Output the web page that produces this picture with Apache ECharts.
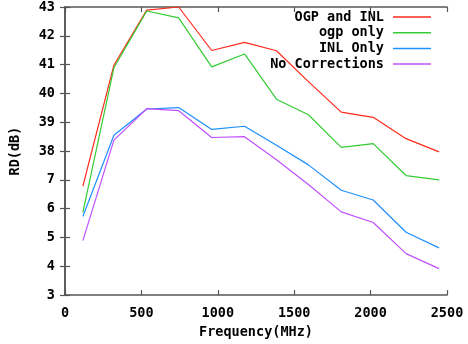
<!DOCTYPE html>
<html>
<head>
<meta charset="utf-8">
<script src="https://cdn.jsdelivr.net/npm/echarts@6/dist/echarts.min.js"></script>
<style>
  html, body { margin: 0; padding: 0; background: #fff; }
  #chart { width: 468px; height: 344px; }
</style>
</head>
<body>
<div id="chart"></div>
<script>
// frequencies (MHz) of the measured points
var freqs = [117, 320, 535, 744, 960, 1175, 1384, 1593, 1808, 2017, 2232, 2448];

var ogpAndInl = [36.78, 40.98, 42.89, 43.0, 41.49, 41.77, 41.48, 40.41, 39.35, 39.17, 38.43, 37.97];
var ogpOnly   = [35.87, 40.89, 42.86, 42.62, 40.92, 41.37, 39.80, 39.26, 38.13, 38.26, 37.15, 37.0];
var inlOnly   = [35.73, 38.55, 39.46, 39.51, 38.75, 38.86, 38.2, 37.52, 36.64, 36.30, 35.18, 34.64];
var noCorr    = [34.89, 38.38, 39.47, 39.40, 38.47, 38.50, 37.7, 36.84, 35.89, 35.52, 34.44, 33.92];

var seriesNames = ['OGP and INL', 'ogp only', 'INL Only', 'No Corrections'];
var seriesColors = ['#ff2a1a', '#33cc33', '#1f8fff', '#c050ff'];

// y tick labels as printed (values 33..43)
var yTickValues = [33, 34, 35, 36, 37, 38, 39, 40, 41, 42, 43];
var yTickLabels = ['3', '4', '5', '6', '7', '38', '39', '40', '41', '42', '43'];

var font = 'DejaVu Sans Mono';

function pairs(ys) {
  return freqs.map(function (f, i) { return [f, ys[i]]; });
}

var allData = [ogpAndInl, ogpOnly, inlOnly, noCorr];

var axisLine = { lineStyle: { color: '#555', width: 1.5 } };
var tickIn = { inside: true, length: 5, lineStyle: { color: '#555', width: 1.2 } };

var chart = echarts.init(document.getElementById('chart'));
chart.setOption({
  animation: false,
  grid: { left: 64, right: 21, top: 5, bottom: 47 },
  legend: seriesNames.map(function (n, i) {
    return {
      data: [n],
      right: 37,
      top: 10 + i * 15.7,
      align: 'right',
      icon: 'rect',
      itemWidth: 38,
      itemHeight: 1.5,
      itemGap: 0,
      padding: 0,
      selectedMode: false,
      textStyle: { fontFamily: font, fontWeight: 'bold', fontSize: 13.5, color: '#000', padding: [0, 4, 0, 0] }
    };
  }),
  xAxis: [{
    type: 'value', min: 0, max: 2500, interval: 500,
    name: 'Frequency(MHz)', nameLocation: 'middle', nameGap: 24,
    nameTextStyle: { fontFamily: font, fontWeight: 'bold', fontSize: 13.5, color: '#000' },
    axisLine: axisLine, axisTick: tickIn, splitLine: { show: false },
    axisLabel: {
      margin: 11, fontFamily: font, fontWeight: 'bold', fontSize: 13.5, color: '#000',
      formatter: function (v) { return String(v); }
    }
  }, {
    type: 'value', position: 'top', min: 0, max: 2500, interval: 500,
    axisLine: axisLine, axisTick: tickIn, splitLine: { show: false },
    axisLabel: { show: false }
  }],
  yAxis: [{
    type: 'value', min: 33, max: 43, interval: 1,
    name: 'RD(dB)', nameLocation: 'middle', nameGap: 43, nameRotate: 90,
    nameTextStyle: { fontFamily: font, fontWeight: 'bold', fontSize: 13.5, color: '#000' },
    axisLine: axisLine, axisTick: tickIn, splitLine: { show: false },
    axisLabel: {
      margin: 10, fontFamily: font, fontWeight: 'bold', fontSize: 13.5, color: '#000',
      formatter: function (v) {
        var k = yTickValues.indexOf(Math.round(v));
        return k >= 0 ? yTickLabels[k] : '';
      }
    }
  }, {
    type: 'value', position: 'right', min: 33, max: 43, interval: 1,
    axisLine: axisLine, axisTick: tickIn, splitLine: { show: false },
    axisLabel: { show: false }
  }],
  series: seriesNames.map(function (n, i) {
    return {
      name: n, type: 'line', data: pairs(allData[i]),
      showSymbol: false, symbol: 'none', clip: true,
      itemStyle: { color: seriesColors[i] },
      lineStyle: { color: seriesColors[i], width: 1.2 }
    };
  })
});
</script>
</body>
</html>
